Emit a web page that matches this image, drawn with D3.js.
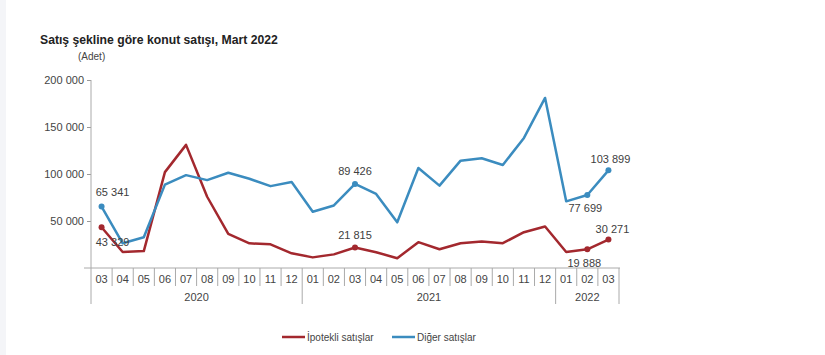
<!DOCTYPE html>
<html><head><meta charset="utf-8">
<script src="https://cdn.jsdelivr.net/npm/d3@7"></script>
<style>body{margin:0;background:#fff}svg{display:block}text{font-family:"Liberation Sans",Arial,sans-serif}</style>
</head><body>
<svg id="c" width="825" height="355"></svg>
<script>
const months = ["03","04","05","06","07","08","09","10","11","12","01","02","03","04","05","06","07","08","09","10","11","12","01","02","03"];
const years = [{label:"2020", from:0, to:9},{label:"2021", from:10, to:21},{label:"2022", from:22, to:24}];
const ipotekli = [43329,17000,18000,102000,131000,75800,36200,26200,25200,15600,11300,14500,21815,16800,10400,27500,20000,26400,28200,26400,38100,44200,17000,19888,30271];
const diger = [65341,26300,32700,88700,98800,93500,101300,94900,87100,91400,59900,66500,89426,78800,48600,106400,87600,114200,116700,109600,138400,180900,70900,77699,103899];
const yTicks = [0,50000,100000,150000,200000];
const labeled = [0,12,23,24];

const svg = d3.select("#c");
svg.append("rect").attr("x",0).attr("y",0).attr("width",6).attr("height",355).attr("fill","#f4f5f8");

const x = d3.scaleBand().domain(d3.range(months.length)).range([91,619]);
const y = d3.scaleLinear().domain([0,200000]).range([268,80]);
const cx = i => x(i) + x.bandwidth()/2;
const fmt = v => d3.format(",")(v).replace(/,/g," ");

svg.append("text").attr("x",40).attr("y",44).attr("font-size",12.2).attr("font-weight","bold").attr("fill","#222").text("Satış şekline göre konut satışı, Mart 2022");
svg.append("text").attr("x",78).attr("y",60).attr("font-size",10).attr("fill","#444").text("(Adet)");

// y axis
const gy = svg.append("g").attr("transform","translate(91,0)")
  .call(d3.axisLeft(y).tickValues(yTicks.filter(d=>d>0)).tickSize(4).tickSizeOuter(0).tickFormat(fmt));
gy.select(".domain").remove();
gy.selectAll("line").attr("stroke","#999");
gy.selectAll("text").attr("font-size",11).attr("fill","#444").attr("font-family","Liberation Sans, Arial");
svg.append("line").attr("x1",91).attr("x2",91).attr("y1",80).attr("y2",304).attr("stroke","#aaa");

// x axis
svg.append("line").attr("x1",84).attr("x2",620).attr("y1",268).attr("y2",268).attr("stroke","#aaa");
const gx = svg.append("g");
months.forEach((m,i)=>{
  gx.append("text").attr("x",cx(i)).attr("y",283).attr("text-anchor","middle").attr("font-size",11).attr("fill","#444").text(m);
});
d3.range(1,months.length).forEach(i=>{
  const isYear = years.some(yy=>yy.from===i);
  gx.append("line").attr("x1",x(i)).attr("x2",x(i)).attr("y1",268).attr("y2",isYear?304:286).attr("stroke","#aaa");
});
gx.append("line").attr("x1",x.range()[1]).attr("x2",x.range()[1]).attr("y1",268).attr("y2",304).attr("stroke","#aaa");
years.forEach(yy=>{
  const mid = (x(yy.from) + x(yy.to) + x.bandwidth())/2;
  gx.append("text").attr("x",mid).attr("y",301).attr("text-anchor","middle").attr("font-size",11).attr("fill","#444").text(yy.label);
});

const red = "#a3282e", blue = "#3b8cbf";
const line = d3.line().x((d,i)=>cx(i)).y(d=>y(d));
[[ipotekli,red],[diger,blue]].forEach(([data,col])=>{
  svg.append("path").attr("d",line(data)).attr("fill","none").attr("stroke",col).attr("stroke-width",2.5).attr("stroke-linejoin","round");
  labeled.forEach(i=>{
    svg.append("circle").attr("cx",cx(i)).attr("cy",y(data[i])).attr("r",3).attr("fill",col);
  });
});

// data labels
labeled.forEach(i=>{
  const b = diger[i], r = ipotekli[i];
  let bdx=0,bdy=-9,rdx=0,rdy=-8;
  if(i===0){bdx=11;bdy=-11;rdx=11;rdy=19;}
  if(i===23){bdx=-2;bdy=17;rdx=-3;rdy=18;}
  if(i===24){bdx=2;bdy=-7;rdx=4;rdy=-7;}
  svg.append("text").attr("x",cx(i)+bdx).attr("y",y(b)+bdy).attr("text-anchor","middle").attr("font-size",11).attr("fill","#404040").text(fmt(b));
  svg.append("text").attr("x",cx(i)+rdx).attr("y",y(r)+rdy).attr("text-anchor","middle").attr("font-size",11).attr("fill","#404040").text(fmt(r));
});

// legend
const leg = [["İpotekli satışlar",red,282],["Diğer satışlar",blue,392]];
leg.forEach(([t,c,lx])=>{
  svg.append("line").attr("x1",lx).attr("x2",lx+23).attr("y1",337).attr("y2",337).attr("stroke",c).attr("stroke-width",2.5);
  svg.append("text").attr("x",lx+25).attr("y",341).attr("font-size",10).attr("fill","#444").text(t);
});
</script>
</body></html>
